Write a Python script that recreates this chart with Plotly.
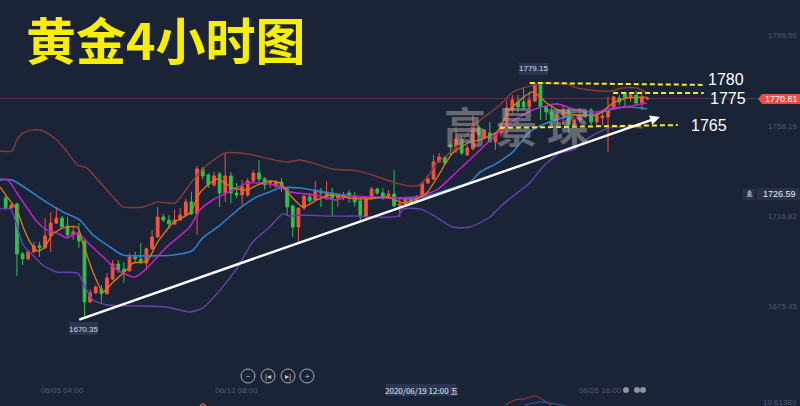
import plotly.graph_objects as go

# ---------- data ----------
title_text = "黄金4小时图"
watermark = "高 景 琛"
tick_idx = [10, 41, 105.6]
tick_labels = ["06/05 04:00", "06/12 08:00", "06/26 16:00"]
price_ticks = [1799.56, 1758.19, 1716.82, 1675.45]
last_price = 1770.81

opens = [1725.2,1720.6,1722.5,1699.6,1697.3,1700.5,1703.3,1702.4,1707.8,1713.7,1716.0,1712.4,1708.3,1709.2,1705.5,1677.6,1681.7,1683.5,1681.3,1688.1,
         1695.0,1692.7,1691.8,1698.2,1697.3,1695.4,1701.9,1707.3,1716.5,1715.1,1713.3,1715.1,1717.4,1723.4,1717.9,1738.5,1735.7,1731.2,1736.2,1727.5,
         1735.3,1727.5,1726.6,1726.6,1733.0,1736.6,1733.9,1732.0,1730.7,1732.5,1729.3,1721.6,1711.9,1720.6,1725.7,1724.3,1728.4,1724.8,1727.5,1725.2,
         1725.7,1727.5,1726.1,1723.9,1716.5,1724.8,1729.3,1727.5,1725.7,1727.0,1721.6,1722.5,1724.8,1723.4,1725.7,1732.1,1733.9,1741.7,1744.0,1749.5,
         1748.6,1752.2,1744.9,1747.7,1757.7,1752.7,1755.0,1750.9,1755.0,1757.7,1765.5,1769.2,1769.2,1766.9,1769.6,1777.4,1766.9,1764.1,1760.9,1763.2,
         1765.5,1758.6,1760.9,1764.6,1765.5,1760.0,1761.9,1762.3,1766.0,1771.0,1773.3,1771.0,1772.4,1768.7,1770.5]
closes = [1720.6,1722.0,1699.6,1697.3,1700.5,1703.3,1702.4,1707.8,1713.7,1716.0,1711.9,1708.3,1709.7,1705.5,1677.6,1681.7,1684.4,1681.3,1688.6,1695.0,
          1692.2,1691.3,1698.2,1697.3,1695.4,1701.9,1707.3,1716.5,1715.1,1713.3,1715.1,1717.4,1723.4,1717.9,1738.5,1735.3,1731.2,1735.3,1727.5,1735.3,
          1727.5,1726.6,1730.3,1733.0,1736.6,1733.9,1731.2,1732.5,1732.5,1729.8,1721.1,1711.9,1720.6,1726.1,1723.9,1728.4,1727.5,1727.5,1725.2,1726.6,
          1726.6,1726.1,1723.4,1716.5,1724.8,1729.3,1727.5,1725.7,1727.0,1721.6,1722.5,1724.8,1722.9,1725.7,1732.1,1733.9,1741.7,1744.0,1741.2,1748.6,
          1752.2,1745.8,1748.1,1757.7,1754.1,1756.4,1750.9,1755.0,1758.6,1766.4,1770.1,1766.9,1766.9,1770.1,1777.4,1766.9,1764.6,1760.9,1763.2,1765.5,
          1758.6,1760.9,1763.2,1763.7,1760.0,1762.8,1762.8,1765.5,1771.5,1769.2,1771.0,1772.4,1768.7,1771.5,1770.81]
highs = [1726.1,1722.5,1723.0,1700.5,1700.9,1705.1,1705.1,1716.0,1718.8,1721.1,1716.9,1716.5,1711.9,1713.7,1705.9,1683.5,1685.3,1685.3,1690.8,1696.8,
         1696.8,1695.9,1700.0,1700.5,1704.6,1702.4,1710.6,1721.1,1717.9,1717.4,1719.7,1720.6,1724.8,1728.0,1739.9,1739.4,1736.6,1737.1,1737.1,1745.8,
         1737.1,1732.1,1733.5,1734.4,1738.0,1742.6,1734.8,1733.5,1733.5,1734.4,1729.8,1722.0,1720.6,1726.6,1727.5,1733.0,1729.8,1733.0,1729.8,1727.5,
         1728.0,1728.9,1728.0,1725.2,1725.7,1730.3,1729.8,1729.8,1728.9,1738.0,1725.7,1725.7,1725.7,1726.6,1732.5,1735.7,1744.9,1745.8,1744.5,1750.4,
         1757.7,1753.6,1749.5,1763.2,1758.6,1756.8,1760.0,1755.4,1760.0,1770.1,1772.4,1772.4,1776.0,1773.8,1777.9,1777.9,1767.8,1767.8,1765.0,1767.8,
         1766.4,1761.9,1766.4,1765.5,1766.4,1764.6,1764.1,1771.5,1771.9,1772.4,1773.8,1773.8,1774.2,1773.3,1771.5]
lows = [1719.7,1720.2,1689.5,1694.5,1696.8,1700.0,1698.2,1701.9,1700.5,1713.3,1711.9,1706.9,1706.0,1702.4,1670.7,1677.2,1681.3,1677.1,1680.9,1687.7,
        1690.8,1686.3,1691.6,1695.4,1695.2,1692.2,1701.4,1707.1,1714.2,1711.9,1712.8,1714.9,1717.2,1717.4,1708.3,1733.5,1729.8,1730.3,1721.1,1723.4,
        1722.9,1725.2,1722.0,1725.7,1732.5,1732.5,1728.9,1729.8,1729.8,1728.0,1717.4,1707.3,1705.1,1719.7,1722.9,1724.1,1721.1,1724.6,1716.9,1721.1,
        1724.3,1722.9,1721.1,1715.1,1716.3,1724.3,1726.6,1724.3,1725.2,1721.1,1716.5,1722.0,1722.5,1722.9,1725.5,1731.6,1733.5,1741.2,1740.3,1744.9,
        1745.8,1744.9,1744.5,1747.2,1752.7,1751.8,1750.7,1747.2,1753.2,1755.0,1764.1,1764.6,1765.5,1766.0,1769.2,1760.9,1760.9,1757.3,1757.7,1758.6,
        1755.0,1757.7,1759.6,1761.9,1758.6,1758.6,1758.6,1746.3,1765.5,1767.8,1766.9,1769.2,1767.8,1765.5,1770.1]

upper_x = [-1,1.1,2,3.1,4.8,6.6,9.1,10.9,12.8,14.4,16.7,19.1,20.8,24.4,27,30.1,33.3,35.8,39,42.9,46.9,50,52.3,54.6,58.1,62.4,65.2,68.8,71.8,73.6,75.4,76.6,78.4,80.7,83.7,87.8,90.1,92.6,96.1,100.2,101.4,105.5,107.7,109.5,112.1,113.9]
upper_y = [1746.7,1746.7,1751.8,1755.0,1756.4,1755.9,1751.8,1746.3,1740.3,1739.0,1732.5,1725.7,1721.1,1721.1,1723.4,1722.9,1733.5,1740.3,1745.8,1745.4,1743.1,1741.7,1742.6,1741.2,1738.5,1737.6,1735.7,1732.5,1730.7,1731.2,1736.6,1741.2,1744.9,1750.4,1759.5,1767.8,1773.8,1776.1,1777.9,1777.0,1775.6,1774.2,1774.2,1775.6,1775.6,1773.3]
mid_x = [-1,1.1,3.8,6.6,10.2,13.2,15.5,18.5,20.8,25.1,29.7,33.1,35,38.1,41.6,44.6,46.9,48.7,52.3,57.6,62.9,67.7,71.8,74.8,78.4,82.5,84.3,87.3,90.1,93.1,96.1,100.8,104.3,107.9,110.9,113.9]
mid_y = [1733.5,1733.5,1729.3,1724.3,1718.8,1715.1,1708.3,1702.8,1699.1,1698.7,1699.1,1700.9,1706.9,1712.8,1720.6,1725.7,1728.0,1729.8,1729.8,1727.5,1725.7,1725.2,1724.8,1726.1,1728.9,1732.5,1737.1,1741.2,1746.3,1755.5,1759.5,1763.2,1763.2,1766.0,1766.9,1766.0]
lower_x = [-1,.8,1.7,3.1,4.8,6.6,9.1,12.8,14.1,15.5,18,22.6,28.6,32.7,35,38.1,41.1,43.9,46.9,49.2,50.5,52.3,57.6,62.4,64.7,69.7,70.6,73.6,75.9,79.4,82.5,86,87.8,90.8,93.1,95.4,98.4,100.8,103.8,107.3,110.9,113.2]
lower_y = [1720.2,1720.2,1715.1,1703.7,1699.1,1694.5,1691.3,1690.8,1684.4,1678.5,1676.2,1675.8,1675.3,1673.0,1674.8,1683.1,1693.1,1705.1,1711.9,1717.9,1716.9,1717.4,1716.9,1716.9,1716.5,1716.9,1720.2,1720.2,1717.4,1711.9,1711.9,1716.5,1721.1,1727.5,1732.1,1739.4,1745.8,1747.2,1753.2,1757.3,1757.7,1757.3]
ma_slow_x = [-1,.4,2,3.8,5.6,7.3,9.1,10.9,12.8,15,17.3,19.8,23,25.1,28.6,32.7,34.5,36.8,40.4,42.9,46.9,48.7,50.5,53.5,55.8,58.8,61.1,64.2,68.3,73,76.6,80.1,83.7,86.5,89.5,93.6,97.9,101.4,105,107.9,110.9,113.9]
ma_slow_y = [1733.9,1733.5,1727.5,1720.6,1714.2,1710.6,1709.2,1706.9,1709.2,1703.7,1698.2,1692.2,1689.0,1693.1,1702.8,1711.9,1719.7,1724.3,1728.9,1732.1,1731.6,1730.3,1728.0,1727.0,1726.1,1724.3,1726.1,1725.7,1725.2,1725.7,1728.9,1737.1,1745.8,1752.7,1759.5,1765.5,1768.3,1765.5,1764.6,1766.4,1767.3,1768.7]
ma_fast_x = [-1,.4,2,3.1,4.3,5.7,7,8.2,10.2,12.7,13.7,15.5,17.3,19.1,21.5,22.6,25.1,26.9,29.7,32.7,34.5,37.5,40.4,42.9,44.8,46.9,48.7,50.5,52.8,55.3,57.6,61.1,64.2,67.7,70.6,73,74.8,76.6,79.4,82.5,84.2,87.3,89.5,93.6,96.1,98.9,101.9,105,107.9,110.3,113.9]
ma_fast_y = [1730.3,1725.2,1719.7,1711.9,1705.1,1700.9,1702.8,1708.3,1711.5,1711.9,1704.6,1691.3,1682.2,1686.8,1692.2,1695.4,1696.3,1704.6,1713.7,1718.3,1727.5,1733.9,1729.8,1728.9,1731.2,1733.0,1732.1,1726.6,1721.1,1724.3,1726.6,1725.2,1724.8,1725.7,1722.9,1724.8,1727.5,1734.4,1745.8,1750.8,1751.8,1755.5,1765.5,1773.8,1768.7,1764.6,1763.2,1763.2,1768.7,1771.0,1771.4]
sub_red_x = [88.7,90.5,92.2,94,96.9]
sub_red_y = [1630.4,1632.7,1633.2,1634.5,1630.4]
sub_blue_x = [92.2,95,99.5]
sub_blue_y = [1630.4,1631.8,1629.9]
sub_mark_x = [34.5,35,35.6]
sub_mark_y = [1630,1630.8,1630]

trend_x = [12.8, 116.2]
trend_y = [1669.3, 1762.3]
level_1780 = ([93.1, 123.8], [1777.9, 1777.0])
level_1775 = ([107.9, 124.0], [1773.3, 1773.3])
level_1765 = ([87.8, 119.4], [1757.3, 1758.6])

# ---------- styling ----------
W, H = 800, 406
BG = "#1b2337"
RED, GREEN = "#f4533d", "#2fc14b"
PANEL = "#2a3650"
DIM = "#525c70"
YEL = "#f5ee1e"
SANS = "Liberation Sans, Arial, sans-serif"
CJK = "Noto Sans CJK SC"

def fx(px): return px / W
def fy(py): return 1 - py / H

fig = go.Figure()
fig.add_trace(go.Candlestick(
    x=list(range(len(opens))), open=opens, high=highs, low=lows, close=closes,
    increasing=dict(line=dict(color=RED, width=1), fillcolor=RED),
    decreasing=dict(line=dict(color=GREEN, width=1), fillcolor=GREEN),
    showlegend=False, hoverinfo="skip"))

def line(x, y, color, w=1.4):
    fig.add_trace(go.Scatter(x=x, y=y, mode="lines", showlegend=False, hoverinfo="skip",
                             line=dict(color=color, width=w, shape="spline", smoothing=0.6)))

line(upper_x, upper_y, "#8b3b36")
line(lower_x, lower_y, "#6b3fb5")
line(mid_x, mid_y, "#2f7fd0", 1.6)
line(ma_slow_x, ma_slow_y, "#c21fc4", 1.6)
line(ma_fast_x, ma_fast_y, "#d9761a")
line(sub_red_x, sub_red_y, "#c0343a", 1)
line(sub_blue_x, sub_blue_y, "#2d5fc0", 1)
line(sub_mark_x, sub_mark_y, RED, 1.5)

shapes = [dict(type="line", xref="paper", yref="y", x0=0, x1=fx(760), y0=last_price, y1=last_price,
               line=dict(color="#5c3b45", width=1), layer="below")]
for lx, ly in (level_1780, level_1775, level_1765):
    shapes.append(dict(type="line", xref="x", yref="y", x0=lx[0], x1=lx[1], y0=ly[0], y1=ly[1],
                       line=dict(color=YEL, width=2, dash="5px,3px")))

def box(x0, y0, x1, y1, color):
    shapes.append(dict(type="rect", xref="paper", yref="paper", x0=fx(x0), x1=fx(x1), y0=fy(y0), y1=fy(y1),
                       fillcolor=color, line_width=0, layer="above"))

def poly(points, color):
    path = "M " + " L ".join(f"{fx(a)} {fy(b)}" for a, b in points) + " Z"
    shapes.append(dict(type="path", xref="paper", yref="paper", path=path, fillcolor=color, line_width=0))

poly([(758,99),(762,94),(800,94),(800,104),(762,104)], "#f04b40")
box(743,189,755,200,"#27324a"); box(757,188,800,200,"#27324a")
poly([(746,197),(747.5,196),(747.5,192),(749,190),(750,190),(751.5,192),(751.5,196),(753,197)], "#8d95a5")
box(519,63,548,75,PANEL); box(69,322,98,335,PANEL); box(386,384,456,396,PANEL)

for cx in (248, 268, 288, 307):
    shapes.append(dict(type="circle", xref="paper", yref="paper", x0=fx(cx-7), x1=fx(cx+7), y0=fy(376+7), y1=fy(376-7),
                       line=dict(color="#aab0bd", width=1), fillcolor="rgba(0,0,0,0)"))
for cx, r in ((626,3),(637,3),(643,3)):
    shapes.append(dict(type="circle", xref="paper", yref="paper", x0=fx(cx-r), x1=fx(cx+r), y0=fy(390+r), y1=fy(390-r),
                       line_width=0, fillcolor="#8d93a0"))

def note(px, py, text, size, color, family=SANS, bold=False):
    fig.add_annotation(xref="paper", yref="paper", x=fx(px), y=fy(py), text=f"<b>{text}</b>" if bold else text,
                       showarrow=False, xanchor="center", yanchor="middle",
                       font=dict(size=size, color=color, family=family))

note(166, 38, title_text, 50, "#f8ee00", CJK, True)
note(516, 124, watermark, 42, "rgba(165,165,165,0.55)", CJK, True)
note(726, 80, "1780", 16, "white")
note(728, 98, "1775", 16, "white")
note(709, 126, "1765", 16, "white")
note(781, 99, f"{last_price:.2f}", 9, "white")
note(779, 194, "1726.59", 9, "#e6e9ef")
note(533, 69, "1779.15", 8, "#d5d9e2")
note(83, 329, "1670.35", 8, "#d5d9e2")
note(421, 390, "2020/06/19 12:00 五", 8, "#e6e9ef", CJK)
note(780, 402, "10.61389", 8, DIM)
for cx, t in ((248,"−"),(268,"|◂"),(288,"▸|"),(307,"+")):
    note(cx, 376, t, 8, "#c5c9d2")

fig.add_annotation(xref="x", yref="y", axref="x", ayref="y", x=trend_x[1], y=trend_y[1], ax=trend_x[0], ay=trend_y[0],
                   text="", showarrow=True, arrowhead=2, arrowsize=0.8, arrowwidth=2.4, arrowcolor="white")

fig.update_layout(
    width=W, height=H, margin=dict(l=0, r=0, t=0, b=0), paper_bgcolor=BG, plot_bgcolor=BG,
    showlegend=False, shapes=shapes,
    xaxis=dict(range=[-1.007, 141.1], rangeslider=dict(visible=False), showgrid=False, zeroline=False,
               showline=False, ticks="", tickmode="array", tickvals=tick_idx, ticktext=tick_labels,
               ticklabelposition="inside", ticklabelstandoff=8, tickfont=dict(size=8, color=DIM, family=SANS)),
    yaxis=dict(range=[1629.93, 1815.88], side="right", showgrid=False, zeroline=False, showline=False,
               ticks="", tickmode="array", tickvals=price_ticks, ticktext=[f"{v:.2f}" for v in price_ticks],
               ticklabelposition="inside", tickfont=dict(size=8, color=DIM, family=SANS)),
)
fig.write_html("out.html", config=dict(displayModeBar=False),
               post_script="document.documentElement.style.margin='0';document.body.style.margin='0';document.body.style.overflow='hidden';document.body.style.background='#1b2337';")
